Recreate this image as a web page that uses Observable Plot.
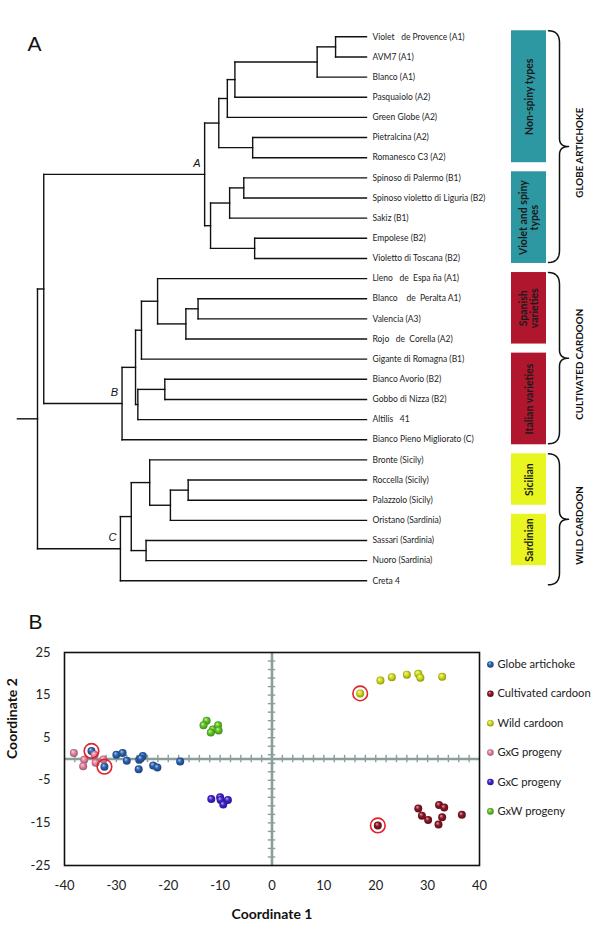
<!DOCTYPE html>
<html><head><meta charset="utf-8">
<script src="https://cdn.jsdelivr.net/npm/d3@7"></script>
<script src="https://cdn.jsdelivr.net/npm/@observablehq/plot@0.6"></script>
<style>
body{margin:0;background:#fff;}
#chart{width:600px;height:939px;}
#chart svg{display:block;}
svg text{white-space:pre;}
</style></head><body><div id="chart"></div>
<script>
// ================= Panel A : dendrogram data =================
const leafLabels = [
  "Violet   de Provence (A1)", "AVM7 (A1)", "Blanco (A1)", "Pasquaiolo (A2)", "Green Globe (A2)",
  "Pietralcina (A2)", "Romanesco C3 (A2)", "Spinoso di Palermo (B1)", "Spinoso violetto di Liguria (B2)",
  "Sakiz (B1)", "Empolese (B2)", "Violetto di Toscana (B2)",
  "Lleno   de  Espa ña (A1)", "Blanco    de  Peralta A1)", "Valencia (A3)", "Rojo   de  Corella (A2)",
  "Gigante di Romagna (B1)", "Bianco Avorio (B2)", "Gobbo di Nizza (B2)", "Altilis   41",
  "Bianco Pieno Migliorato (C)",
  "Bronte (Sicily)", "Roccella (Sicily)", "Palazzolo (Sicily)", "Oristano (Sardinia)",
  "Sassari (Sardinia)", "Nuoro (Sardinia)", "Creta 4"
];
// merges: node id, its two children (leaf index or node id), merge height (distance)
const nodeIds = ["n7","n6","n5","n3","n4","n1","n10","n8","n9","n2","A",
                 "n16","n15","n14","n12","n17","n13","n11","B",
                 "n22","n21","n19","n20","n18","C","n0","root"];
const nodeKids = [[0,1],["n7",2],["n6",3],["n5",4],[5,6],["n3","n4"],[7,8],["n10",9],[10,11],["n8","n9"],["n1","n2"],
                  [13,14],["n16",15],[12,"n15"],["n14",16],[17,18],["n17",19],["n12","n13"],["n11",20],
                  [22,23],["n22",24],[21,"n21"],[25,26],["n19","n20"],["n18",27],["A","B"],["n0","C"]];
const nodeHeights = [0.094,0.150,0.400,0.423,0.346,0.449,0.373,0.416,0.340,0.474,0.492,
                     0.512,0.549,0.635,0.684,0.613,0.695,0.702,0.743,
                     0.542,0.596,0.659,0.670,0.715,0.748,0.981,1.000];
const rootStub = 1.061;
const cladeLabels = ["A","B","C"];

const boxLabels = ["Non-spiny types","Violet and spiny\ntypes","Spanish\nvarieties","Italian varieties","Sicilian","Sardinian"];
const boxFirst = [0,7,12,16,21,24];
const boxLast  = [6,11,15,20,23,26];
const boxColors = ["#2d97a2","#2d97a2","#b0172f","#b0172f","#e8f51f","#e8f51f"];

const groupLabels = ["GLOBE ARTICHOKE","CULTIVATED CARDOON","WILD CARDOON"];
const groupFirst = [0,12,21];
const groupLast  = [11,20,27];

// ================= Panel B : PCoA data =================
const seriesNames  = ["Globe artichoke","Cultivated cardoon","Wild cardoon","GxG progeny","GxC progeny","GxW progeny"];
const seriesColors = ["#2b62b3","#8c1526","#d3df18","#e386a3","#4222cf","#62c824"];
const globeX = [-34.8,-32.3,-30.0,-28.8,-28.0,-25.6,-24.9,-25.3,-25.7,-22.9,-22.1,-17.7];
const globeY = [  1.9, -1.8,  1.0,  1.4, -0.4, -0.2,  0.7,  0.1, -2.4, -1.5, -2.0, -0.6];
const cultX  = [20.4,28.2,28.9,30.1,32.2,33.2,32.8,32.1,36.6];
const cultY  = [-15.6,-11.6,-13.3,-14.3,-10.8,-11.4,-13.7,-15.4,-13.1];
const wildX  = [17.0,20.9,23.1,26.0,28.2,28.6,32.8];
const wildY  = [15.4,18.4,19.2,19.8,20.0,19.1,19.3];
const gxgX   = [-38.2,-36.2,-36.4,-34.2,-34.0,-32.5];
const gxgY   = [  1.4, -0.2, -1.7,  1.0, -0.9, -0.1];
const gxcX   = [-11.7,-10.0,-9.9,-8.5,-9.4];
const gxcY   = [ -9.4, -9.0,-9.6,-9.6,-10.7];
const gxwX   = [-12.6,-13.2,-11.4,-10.4,-10.3,-11.8];
const gxwY   = [  9.0,  7.9,  6.9,  7.9,  6.7,  6.2];
const circled = [[0,0],[0,1],[2,0],[1,0]]; // [series, point]
const xTicks = [-40,-30,-20,-10,0,10,20,30,40];
const yTicks = [25,15,5,-5,-15,-25];
const xMinor = d3.range(-38,39,2).filter(v => v !== 0);
const yMinor = d3.range(-23,24,2);

// ================= Build Panel A =================
const xA = {domain:[1,0], range:[37,366]};
const yA = {domain:[0,27], range:[36.3,580.3]};
const xPx = d3.scaleLinear(xA.domain, xA.range);
const yPx = d3.scaleLinear(yA.domain, yA.range);

const pos = new Map();
leafLabels.forEach((name,i) => pos.set(i, {h:0, y:i}));
const segs = [];
nodeIds.forEach((id,k) => {
  const [a,b] = nodeKids[k];
  const pa = pos.get(a), pb = pos.get(b), h = nodeHeights[k];
  pos.set(id, {h, y:(pa.y+pb.y)/2});
  segs.push({x1:h, y1:pa.y, x2:h, y2:pb.y});
  segs.push({x1:h, y1:pa.y, x2:pa.h, y2:pa.y});
  segs.push({x1:h, y1:pb.y, x2:pb.h, y2:pb.y});
});
const root = pos.get("root");
segs.push({x1:rootStub, y1:root.y, x2:root.h, y2:root.y});

const leaves = leafLabels.map((t,i) => ({t, y:i}));
const clades = cladeLabels.map(id => ({t:id, x:pos.get(id).h, y:pos.get(id).y}));
const boxes = boxLabels.map((t,i) => ({t, y1:boxFirst[i]-0.3, y2:boxLast[i]+0.25, ym:(boxFirst[i]-0.3+boxLast[i]+0.25)/2, c:boxColors[i]}));

function brace(g, yTop, yBot){
  const L=548, S=559, P=568, r1=12, r2=8;
  const t0 = yPx(yTop), b0 = yPx(yBot), M = (t0+b0)/2;
  const pts = [];
  const quad = (p0,p1,p2) => { for (let k=0;k<=8;k++){ const t=k/8;
    pts.push([(1-t)**2*p0[0]+2*(1-t)*t*p1[0]+t*t*p2[0], (1-t)**2*p0[1]+2*(1-t)*t*p1[1]+t*t*p2[1]]); } };
  quad([L,t0],[S,t0],[S,t0+r1]);
  quad([S,M-r2],[S,M],[P,M]);
  quad([P,M],[S,M],[S,M+r2]);
  quad([S,b0-r1],[S,b0],[L,b0]);
  return pts.map(([x,y]) => ({g, x:xPx.invert(x), y:yPx.invert(y)}));
}
const braces = groupLabels.flatMap((g,i) => brace(g, groupFirst[i]-0.3, groupLast[i]+0.2));
const groups = groupLabels.map((t,i) => ({t, y:(groupFirst[i]-0.3+groupLast[i]+0.2)/2 + 0.3}));

const plotA = Plot.plot({
  width:600, height:600, margin:0,
  x:{...xA, axis:null}, y:{...yA, axis:null},
  style:{fontFamily:"Lato, sans-serif", background:"white", overflow:"visible"},
  marks:[
    Plot.rect(boxes, {x1:xPx.invert(511), x2:xPx.invert(546), y1:"y1", y2:"y2", fill:"c"}),
    Plot.link(segs, {x1:"x1", y1:"y1", x2:"x2", y2:"y2", stroke:"#111", strokeWidth:1.4, strokeLinecap:"square"}),
    Plot.text(leaves, {x:0, y:"y", text:"t", dx:6, textAnchor:"start", fontSize:8.5, fill:"#222"}),
    Plot.text(clades, {x:"x", y:"y", text:"t", dx:-4, dy:-11, textAnchor:"end", fontSize:11, fontStyle:"italic", fontFamily:"Liberation Sans, Arial, sans-serif", fill:"#111"}),
    Plot.text(boxes, {x:xPx.invert(528.5), y:"ym", text:"t", rotate:-90, fontSize:10.5, fontWeight:"bold", lineHeight:1.1, fill:"#1a1a1a"}),
    Plot.line(braces, {x:"x", y:"y", z:"g", stroke:"#111", strokeWidth:1.5}),
    Plot.text(groups, {x:xPx.invert(579), y:"y", text:"t", rotate:-90, fontSize:9.8, fontWeight:"bold", fill:"#111"}),
    Plot.text(["A"], {frameAnchor:"top-left", text:d=>d, dx:27, dy:36, textAnchor:"start", fontSize:21, fontFamily:"Liberation Sans, Arial, sans-serif", fill:"#111"})
  ]
});

// ================= Build Panel B =================
const seriesX = [globeX, cultX, wildX, gxgX, gxcX, gxwX];
const seriesY = [globeY, cultY, wildY, gxgY, gxcY, gxwY];
const pts = seriesX.map((xs,s) => xs.map((x,i) => ({x, y:seriesY[s][i]})));
const drawOrder = [0,3,1,2,4,5];
const axisCol = "#8a9e9d";
const legY = i => 22.2 - 6.9*i;

const marksB = [
  Plot.ruleX([0], {stroke:axisCol, strokeWidth:2.6}),
  Plot.ruleY([0], {stroke:axisCol, strokeWidth:2.6}),
  Plot.ruleX(xMinor, {x:d=>d, y1:-0.87, y2:0.87, stroke:axisCol, strokeWidth:1.4}),
  Plot.ruleY(yMinor, {y:d=>d, x1:-0.71, x2:0.71, stroke:axisCol, strokeWidth:1.4}),
];
drawOrder.forEach(s => marksB.push(Plot.dot(pts[s], {x:"x", y:"y", r:4, fill:`url(#sph${s})`})));
marksB.push(
  Plot.dot(circled.map(([s,i]) => pts[s][i]), {x:"x", y:"y", r:7.3, stroke:"#e3202a", strokeWidth:1.6, fill:"none"}),
  Plot.frame({stroke:"#111", strokeWidth:1.6}),
  Plot.text(xTicks, {x:d=>d, frameAnchor:"bottom", dy:24, text:d=>String(d), fontSize:13, fill:"#222"}),
  Plot.text(yTicks, {y:d=>d, frameAnchor:"left", dx:-14, textAnchor:"end", text:d=>String(d), fontSize:13, fill:"#222"}),
  Plot.text(["Coordinate 1"], {frameAnchor:"bottom", text:d=>d, dy:53, fontWeight:"bold", fontSize:14, fill:"#111"}),
  Plot.text(["Coordinate 2"], {frameAnchor:"left", text:d=>d, dx:-52, rotate:-90, fontWeight:"bold", fontSize:14, fill:"#111"}),
  Plot.text(["B"], {frameAnchor:"top-left", text:d=>d, dx:-36, dy:-38, textAnchor:"start", fontSize:21, fontFamily:"Liberation Sans, Arial, sans-serif", fill:"#111"})
);
seriesNames.forEach((n,i) => marksB.push(
  Plot.dot([n], {x:42.1, y:legY(i), r:3.3, fill:`url(#sph${i})`}),
  Plot.text([n], {x:42.1, y:legY(i), text:d=>d, dx:7, textAnchor:"start", fontSize:11.2, fill:"#222"})
));

const plotB = Plot.plot({
  width:600, height:339, marginTop:52, marginBottom:74, marginLeft:64, marginRight:121,
  x:{domain:[-40,40], axis:null}, y:{domain:[-25,25], axis:null},
  style:{fontFamily:"Lato, sans-serif", background:"white", overflow:"visible"},
  marks:marksB
});

const defs = d3.select(plotB).insert("defs", ":first-child");
seriesColors.forEach((c,i) => {
  const g = defs.append("radialGradient").attr("id","sph"+i)
    .attr("cx","50%").attr("cy","50%").attr("r","55%").attr("fx","35%").attr("fy","30%");
  g.append("stop").attr("offset","0%").attr("stop-color", d3.interpolateRgb(c,"white")(0.65));
  g.append("stop").attr("offset","45%").attr("stop-color", c);
  g.append("stop").attr("offset","100%").attr("stop-color", d3.color(c).darker(1.3).formatHex());
});

document.getElementById("chart").append(plotA, plotB);
</script></body></html>
